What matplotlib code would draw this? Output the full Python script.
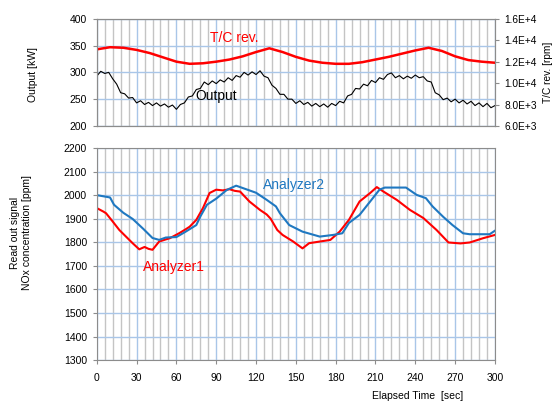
import numpy as np
import matplotlib
matplotlib.use("Agg")
import matplotlib.pyplot as plt
from matplotlib.ticker import MultipleLocator, FuncFormatter

plt.rcParams['font.family'] = ['Liberation Sans', 'DejaVu Sans']

# T/C rev. [rpm] (right axis of top panel)
tc_time = [0, 10, 20, 30, 40, 50, 60, 70, 80, 90, 100, 110, 120, 130, 140, 150,
           160, 170, 180, 190, 200, 210, 220, 230, 240, 250, 260, 270, 280, 290, 300]
tc_rev = [13150, 13350, 13300, 13100, 12800, 12400, 12000, 11800, 11850, 12000,
          12200, 12500, 12900, 13250, 12900, 12450, 12100, 11900, 11800, 11800,
          11950, 12200, 12450, 12750, 13050, 13300, 13000, 12500, 12150, 12000, 11900]

# Output [kW], every 3 s
out_time = list(range(0, 301, 3))
output_kw = [293, 302, 298, 300, 288, 278, 262, 260, 252, 253, 243, 247, 240, 244, 238,
             243, 237, 241, 235, 239, 231, 240, 243, 254, 256, 268, 270, 282, 277, 284,
             279, 286, 282, 290, 285, 294, 291, 300, 295, 301, 296, 303, 293, 290, 276,
             270, 259, 259, 250, 250, 242, 247, 240, 244, 237, 242, 236, 241, 235, 242,
             238, 246, 243, 256, 259, 270, 269, 278, 275, 285, 281, 290, 287, 296, 299,
             290, 294, 288, 293, 289, 295, 290, 292, 284, 282, 262, 258, 249, 252, 245,
             250, 243, 248, 241, 246, 238, 243, 236, 242, 234, 238]

# NOx concentration [ppm]
an1_time = [0, 5, 7, 12, 17, 22, 27, 32, 36, 39, 42, 47, 52, 55, 60, 62, 67, 70, 75, 80,
            85, 90, 95, 100, 104, 108, 115, 123, 128, 131, 136, 140, 148, 155, 160, 168,
            176, 183, 190, 198, 206, 211, 216, 226, 236, 246, 256, 265, 274, 281, 291, 300]
analyzer1 = [1945, 1930, 1923, 1888, 1852, 1824, 1796, 1770, 1780, 1772, 1768, 1803, 1812,
             1817, 1832, 1838, 1855, 1866, 1895, 1945, 2009, 2023, 2020, 2025, 2018, 2015,
             1973, 1937, 1918, 1900, 1852, 1831, 1803, 1774, 1796, 1803, 1810, 1845, 1895,
             1973, 2009, 2034, 2015, 1980, 1937, 1903, 1852, 1799, 1795, 1799, 1817, 1831]

an2_time = [0, 5, 10, 13, 20, 27, 35, 42, 47, 52, 60, 67, 75, 78, 83, 90, 98, 105, 110,
            120, 128, 135, 138, 145, 155, 168, 178, 185, 190, 198, 206, 213, 217, 233, 241,
            248, 253, 261, 268, 276, 281, 296, 300]
analyzer2 = [2000, 1995, 1990, 1959, 1925, 1899, 1857, 1818, 1810, 1820, 1822, 1845, 1873,
             1909, 1959, 1985, 2022, 2040, 2030, 2010, 1980, 1952, 1923, 1873, 1845, 1824,
             1831, 1838, 1882, 1916, 1973, 2023, 2032, 2032, 2001, 1987, 1952, 1908, 1873,
             1838, 1834, 1834, 1849]

RED = '#ff0000'
BLUE = '#1f78c1'
MAJ = '#a9c6e8'
MIN = '#c4c4c4'
EDGE = '#8c8c8c'


def style_grid(ax):
    ax.set_xlim(0, 300)
    ax.xaxis.set_major_locator(MultipleLocator(30))
    ax.xaxis.set_minor_locator(MultipleLocator(6))
    ax.grid(which='minor', axis='x', color=MIN, lw=1.0)
    ax.grid(which='major', axis='x', color=MAJ, lw=1.0)
    ax.grid(which='major', axis='y', color=MAJ, lw=1.0)
    ax.set_axisbelow(True)
    for s in ax.spines.values():
        s.set_color(EDGE)
    ax.tick_params(which='major', length=3, color=EDGE, labelsize=7.5, pad=4)
    ax.tick_params(which='minor', length=0)


fig = plt.figure(figsize=(5.53, 4.01), dpi=100)
ax_top = fig.add_axes([0.175, 0.686, 0.72, 0.267])
ax_bot = fig.add_axes([0.175, 0.102, 0.72, 0.529])

# top panel
style_grid(ax_top)
ax_top.set_ylim(200, 400)
ax_top.yaxis.set_major_locator(MultipleLocator(50))
ax_top.tick_params(axis='x', labelbottom=False, length=0)
ax_top.plot(out_time, output_kw, color='black', lw=0.8)
ax_top.text(74, 256, 'Output', fontsize=10, color='black', ha='left', va='center')
ax_top.text(85, 364, 'T/C rev.', fontsize=10, color=RED, ha='left', va='center')

ax_r = ax_top.twinx()
ax_r.set_ylim(6000, 16000)
ax_r.yaxis.set_major_locator(MultipleLocator(2000))


def sci(v, pos):
    e = int(np.floor(np.log10(v)))
    return f"{v / 10 ** e:.1f}E+{e}"


ax_r.yaxis.set_major_formatter(FuncFormatter(sci))
ax_r.tick_params(length=3, color=EDGE, labelsize=7.3, pad=4)
for s in ax_r.spines.values():
    s.set_color(EDGE)
ax_r.plot(tc_time, tc_rev, color=RED, lw=1.8)

fig.text(548 / 553, 1 - 72 / 401, 'T/C rev. [rpm]', rotation=90, fontsize=7.3,
         ha='center', va='center')
fig.text(0.06, 1 - 74 / 401, 'Output [kW]', rotation=90, fontsize=7.5,
         ha='center', va='center')

# bottom panel
style_grid(ax_bot)
ax_bot.set_ylim(1300, 2200)
ax_bot.yaxis.set_major_locator(MultipleLocator(100))
ax_bot.tick_params(axis='x', pad=6)
ax_bot.plot(an1_time, analyzer1, color=RED, lw=1.5)
ax_bot.plot(an2_time, analyzer2, color=BLUE, lw=1.5)
ax_bot.text(125, 2044, 'Analyzer2', fontsize=10, color=BLUE, ha='left', va='center')
ax_bot.text(35, 1696, 'Analyzer1', fontsize=10, color=RED, ha='left', va='center')

fig.text(0.038, 1 - 233 / 401, 'Read out signal\nNOx concentration [ppm]', rotation=90,
         fontsize=7.5, ha='center', va='center', multialignment='center')
fig.text(418 / 553, 1 - 396 / 401, 'Elapsed Time  [sec]', fontsize=7.5,
         ha='center', va='center')

fig.savefig('out.png', dpi=100)
